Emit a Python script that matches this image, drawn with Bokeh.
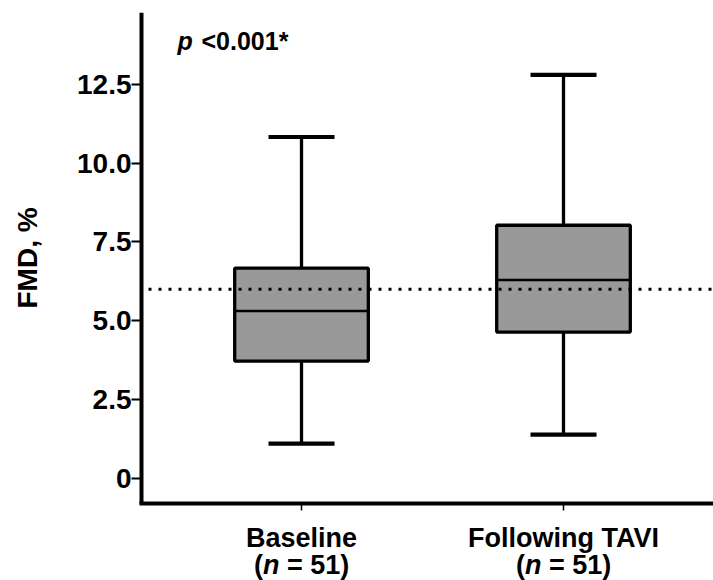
import math
from bokeh.plotting import figure
from bokeh.models import Range1d, FixedTicker, Label, ColumnDataSource
from bokeh.embed import file_html
from bokeh.resources import INLINE

# ---- data ----
categories = ["Baseline", "Following TAVI"]
n_counts = [51, 51]
q_min = [1.10, 1.39]
q1 = [3.72, 4.64]
median = [5.31, 6.29]
q3 = [6.67, 8.03]
q_max = [10.83, 12.80]
reference_line = 6.0
p_text = "<0.001*"
y_label = "FMD, %"
y_ticks = [0, 2.5, 5, 7.5, 10, 12.5]
y_tick_labels = ["0", "2.5", "5.0", "7.5", "10.0", "12.5"]

xs = [i + 1 for i in range(len(categories))]
box_w = 0.51
cap_w = 0.252

src = ColumnDataSource(dict(
    x=xs, left=[x - box_w / 2 for x in xs], right=[x + box_w / 2 for x in xs],
    cl=[x - cap_w / 2 for x in xs], cr=[x + cap_w / 2 for x in xs],
    lo=q_min, q1=q1, med=median, q3=q3, hi=q_max,
))

FONT = "Liberation Sans"
# the frame fills the page; both axes sit at fixed places inside it
x_start, x_end = -0.1489, 2.5725
axis_left = 0.3893                     # where the y axis sits
axis_floor, y_end = -0.793, 14.78      # where the x axis sits / top of the y axis
y_start = -3.24
line2_y = -3.05                        # baseline of the "(n = ...)" line

p = figure(width=713, height=580, output_backend="svg", toolbar_location=None,
           x_range=Range1d(x_start, x_end), y_range=Range1d(y_start, y_end),
           min_border_left=0, min_border_right=0, min_border_top=12,
           min_border_bottom=0)
p.outline_line_color = None
p.grid.visible = False
p.background_fill_color = "white"
p.border_fill_color = "white"

# y axis
ya = p.yaxis[0]
ya.fixed_location = axis_left
ya.bounds = (axis_floor, y_end)
ya.ticker = FixedTicker(ticks=y_ticks)
ya.major_label_overrides = {t: l for t, l in zip(y_ticks, y_tick_labels)}
ya.axis_line_width = 4
ya.axis_line_color = "black"
ya.major_tick_out = 10
ya.major_tick_in = 0
ya.major_tick_line_width = 2
ya.minor_tick_line_color = None
ya.major_label_standoff = 0
ya.major_label_text_font = FONT
ya.major_label_text_font_style = "bold"
ya.major_label_text_font_size = "28px"
ya.major_label_text_color = "black"

# x axis
xa = p.xaxis[0]
xa.fixed_location = axis_floor
xa.bounds = (axis_left, x_end)
xa.ticker = FixedTicker(ticks=xs)
xa.major_label_overrides = {x: c for x, c in zip(xs, categories)}
xa.axis_line_width = 4
xa.axis_line_color = "black"
xa.axis_line_cap = "square"
xa.major_tick_out = 7
xa.major_tick_in = 0
xa.major_tick_line_width = 1.5
xa.minor_tick_line_color = None
xa.major_label_standoff = 13
xa.major_label_text_font = FONT
xa.major_label_text_font_style = "bold"
xa.major_label_text_font_size = "27px"
xa.major_label_text_color = "black"

# whiskers
p.segment(x0="x", x1="x", y0="q3", y1="hi", source=src, line_color="black", line_width=3.3)
p.segment(x0="x", x1="x", y0="lo", y1="q1", source=src, line_color="black", line_width=3.3)
p.segment(x0="cl", x1="cr", y0="hi", y1="hi", source=src, line_color="black", line_width=4.2)
p.segment(x0="cl", x1="cr", y0="lo", y1="lo", source=src, line_color="black", line_width=4.2)
# boxes
p.quad(left="left", right="right", bottom="q1", top="q3", source=src,
       fill_color="#999999", line_color="black", line_width=3.3)
p.segment(x0="left", x1="right", y0="med", y1="med", source=src, line_color="black", line_width=2.5)

# reference line (from the y axis to the right edge)
p.segment(x0=[axis_left], x1=[x_end], y0=[reference_line], y1=[reference_line],
          line_color="black", line_width=3, line_dash="3 7", line_dash_offset=-7)

text_kw = dict(text_baseline="alphabetic", text_font=FONT, text_color="black")

# y axis title
p.add_layout(Label(x=axis_left, y=(axis_floor + y_end) / 2, x_offset=-114, text=y_label,
                   angle=math.pi / 2, text_align="center", text_font_style="bold",
                   text_font_size="28px", **text_kw))

# p value
p.add_layout(Label(x=axis_left, y=y_end, x_offset=36, y_offset=-28, text="p",
                   text_align="left", text_font_style="bold italic",
                   text_font_size="25px", **text_kw))
p.add_layout(Label(x=axis_left, y=y_end, x_offset=60, y_offset=-28, text=p_text,
                   text_align="left", text_font_style="bold",
                   text_font_size="25px", **text_kw))

# second line of category labels: "(n = 51)" with italic n
for x, n in zip(xs, n_counts):
    p.add_layout(Label(x=x, y=line2_y, x_offset=-38.6, y_offset=10, text="(",
                       text_align="right", text_font_style="bold",
                       text_font_size="27px", **text_kw))
    p.add_layout(Label(x=x, y=line2_y, x_offset=-38.6, y_offset=10, text="n",
                       text_align="left", text_font_style="bold italic",
                       text_font_size="27px", **text_kw))
    p.add_layout(Label(x=x, y=line2_y, x_offset=-14.6, y_offset=10, text="= %d)" % n,
                       text_align="left", text_font_style="bold",
                       text_font_size="27px", **text_kw))

open("out.html", "w").write(file_html(p, INLINE))
